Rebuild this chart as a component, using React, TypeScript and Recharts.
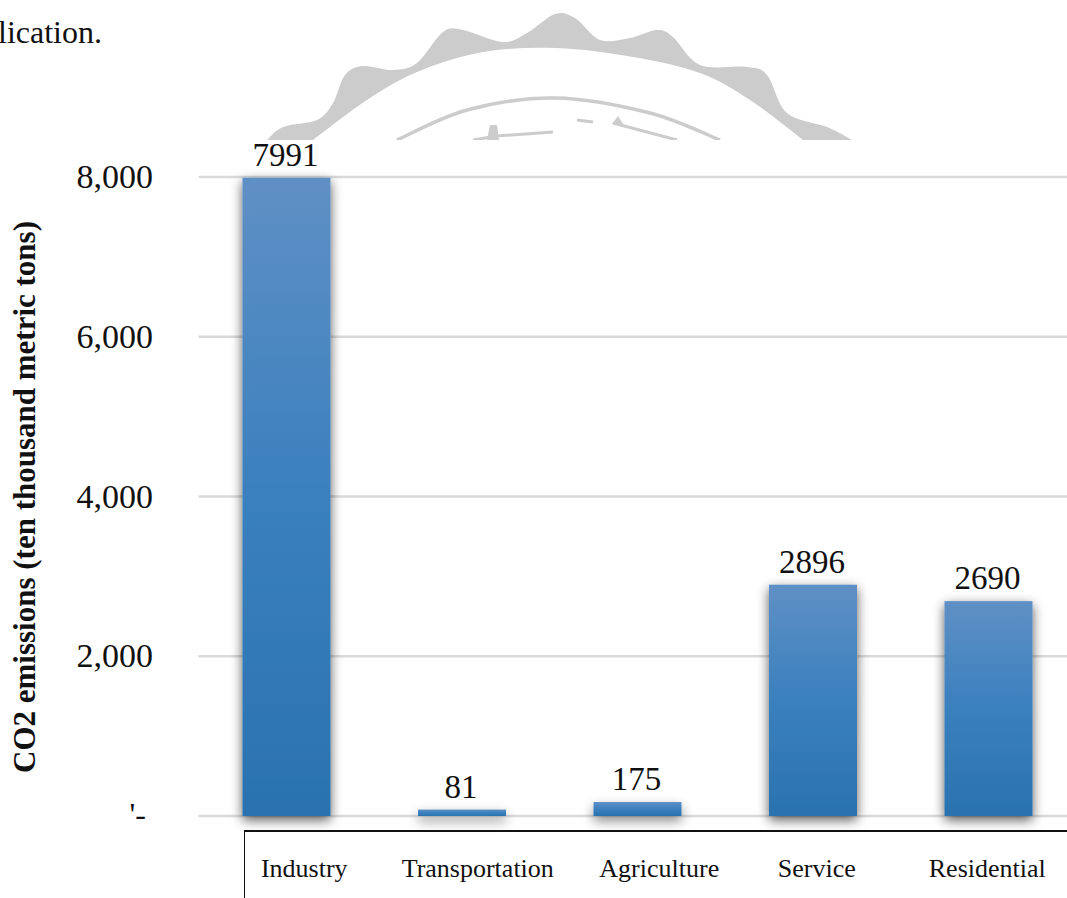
import { BarChart, Bar, XAxis, YAxis, CartesianGrid, LabelList, Label } from 'recharts';

const SERIF = '"Liberation Serif", "Times New Roman", serif';

const categories = ['Industry', 'Transportation', 'Agriculture', 'Service', 'Residential'];
const emissions = [7991, 81, 175, 2896, 2690];
const yTicks = [0, 2000, 4000, 6000, 8000];

// sector names sit in a separate table row, so they do not line up with the bars
const nameShift = [18, 16, 22, 4, -1];

const chartData = categories.map((name, i) => ({ name, emissions: emissions[i] }));

const formatTick = (value: number) => (value === 0 ? "'-" : value.toLocaleString('en-US'));

function SectorTick({ x, index, payload }: any) {
  return (
    <text x={x + nameShift[index]} y={877} textAnchor="middle" fontFamily={SERIF} fontSize={26} fill="#111">
      {payload.value}
    </text>
  );
}

function ValueTick({ y, payload }: any) {
  const isZero = payload.value === 0;
  return (
    <text
      x={isZero ? 146 : 153}
      y={y + (isZero ? 9 : 11)}
      textAnchor="end"
      fontFamily={SERIF}
      fontSize={isZero ? 32 : 34}
      fill="#111"
    >
      {formatTick(payload.value)}
    </text>
  );
}

function AxisTitle({ value }: any) {
  return (
    <text
      transform="translate(35 497) rotate(-90)"
      textAnchor="middle"
      fontFamily={SERIF}
      fontSize={31}
      fontWeight={700}
      fill="#111"
    >
      {value}
    </text>
  );
}

// Catmull-Rom through the outline points, so the seal stays rounded
const smooth = (pts: number[][]) => {
  let d = `M${pts[0][0]} ${pts[0][1]}`;
  for (let i = 0; i < pts.length - 1; i++) {
    const p0 = pts[Math.max(i - 1, 0)];
    const p1 = pts[i];
    const p2 = pts[i + 1];
    const p3 = pts[Math.min(i + 2, pts.length - 1)];
    d += ` C${p1[0] + (p2[0] - p0[0]) / 6} ${p1[1] + (p2[1] - p0[1]) / 6} ${p2[0] - (p3[0] - p1[0]) / 6} ${p2[1] - (p3[1] - p1[1]) / 6} ${p2[0]} ${p2[1]}`;
  }
  return d;
};

const sealOuter = [
  [267, 140], [283, 127], [317, 120], [333, 103], [345, 75], [363, 66], [393, 70], [417, 63],
  [443, 32], [463, 30], [503, 42], [527, 33], [555, 14], [575, 18], [600, 40], [630, 38], [657, 30],
  [673, 37], [700, 65], [747, 67], [767, 75], [787, 113], [827, 127], [852, 140],
];
const sealInner = [
  [803, 140], [750, 100], [700, 73], [633, 57], [556, 48], [483, 52], [417, 72], [367, 100], [313, 140],
];
const sealRing = [[397, 140], [467, 110], [555, 98], [650, 113], [720, 140]];

// seal printed on the page behind the figure, cut off where the figure begins
function Seal() {
  return (
    <svg width={1067} height={140} style={{ position: 'absolute', left: 0, top: 0 }}>
      <path fill="#cccccc" d={`${smooth(sealOuter)} L${sealInner[0][0]} ${sealInner[0][1]} ${smooth(sealInner).slice(1)} Z`} />
      <path fill="none" stroke="#cccccc" strokeWidth={3.5} d={smooth(sealRing)} />
      <path
        fill="none"
        stroke="#cccccc"
        strokeWidth={3}
        d="M473 140 L497 136 L553 132 M577 120 L593 122 M613 123 L677 140"
      />
      <path fill="#cccccc" d="M618 116 L625 127 L612 124 Z M490 125 L497 125 L499 140 L487 140 Z" />
    </svg>
  );
}

export default function App() {
  return (
    <div style={{ position: 'absolute', left: 0, top: 0, width: 1067, height: 898, overflow: 'hidden', background: '#fff' }}>
      <Seal />
      <svg width={200} height={60} style={{ position: 'absolute', left: 0, top: 0 }}>
        <text x={-2} y={43} fontFamily={SERIF} fontSize={32} fill="#111">lication.</text>
      </svg>
      <div
        style={{
          position: 'absolute',
          left: 244,
          top: 830,
          width: 830,
          height: 80,
          borderTop: '2px solid #111',
          borderLeft: '1.5px solid #111',
        }}
      />
      <BarChart
        width={1076}
        height={898}
        data={chartData}
        barSize={88}
        margin={{ top: 177, right: 0, bottom: 0, left: 0 }}
        style={{ position: 'absolute', left: 0, top: 0 }}
      >
        <defs>
          <linearGradient id="barFill" x1="0" y1="0" x2="0" y2="1">
            <stop offset="0%" stopColor="#5f90c5" />
            <stop offset="50%" stopColor="#3a80be" />
            <stop offset="100%" stopColor="#2a72b0" />
          </linearGradient>
          <filter id="barShadow" x="-30%" y="-5%" width="160%" height="115%">
            <feDropShadow dx={0} dy={4} stdDeviation={6} floodColor="#000" floodOpacity={0.65} />
          </filter>
          <filter id="flatBarShadow" x="-30%" y="-150%" width="160%" height="500%">
            <feDropShadow dx={0} dy={5} stdDeviation={6} floodColor="#000" floodOpacity={0.45} />
          </filter>
        </defs>
        <CartesianGrid horizontal vertical={false} stroke="#dadada" strokeWidth={2.5} />
        <XAxis
          dataKey="name"
          height={82}
          axisLine={false}
          tickLine={false}
          interval={0}
          tick={(props: any) => <SectorTick {...props} />}
        />
        <YAxis
          width={198.5}
          domain={[0, 8000]}
          ticks={yTicks}
          axisLine={false}
          tickLine={false}
          tick={(props: any) => <ValueTick {...props} />}
        >
          <Label value="CO2 emissions (ten thousand metric tons)" content={AxisTitle} />
        </YAxis>
        <Bar
          dataKey="emissions"
          fill="url(#barFill)"
          isAnimationActive={false}
          shape={(props: any) => (
            <rect
              x={props.x}
              y={props.y}
              width={props.width}
              height={props.height}
              fill="url(#barFill)"
              filter={props.height < 40 ? 'url(#flatBarShadow)' : 'url(#barShadow)'}
            />
          )}
        >
          <LabelList
            dataKey="emissions"
            position="top"
            offset={12}
            dx={-1}
            style={{ fontFamily: SERIF, fontSize: 33, fill: '#111' }}
          />
        </Bar>
      </BarChart>
    </div>
  );
}
